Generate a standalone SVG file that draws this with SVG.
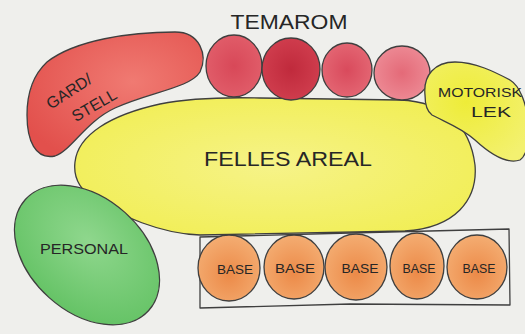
<svg xmlns="http://www.w3.org/2000/svg" width="525" height="334" viewBox="0 0 525 334">
<defs>
<radialGradient id="gRed" cx="0.6" cy="0.4" r="0.7"><stop offset="0" stop-color="#f07a72"/><stop offset="1" stop-color="#e2504c"/></radialGradient>
<radialGradient id="gYel" cx="0.5" cy="0.5" r="0.6"><stop offset="0" stop-color="#f6f388"/><stop offset="1" stop-color="#f1ee55"/></radialGradient>
<radialGradient id="gYel2" cx="0.4" cy="0.4" r="0.7"><stop offset="0" stop-color="#eeec38"/><stop offset="1" stop-color="#f3f170"/></radialGradient>
<radialGradient id="gGrn" cx="0.45" cy="0.4" r="0.7"><stop offset="0" stop-color="#8fd78d"/><stop offset="1" stop-color="#5fc060"/></radialGradient>
<radialGradient id="gOr" cx="0.5" cy="0.6" r="0.6"><stop offset="0" stop-color="#ec8a48"/><stop offset="1" stop-color="#f4ad72"/></radialGradient>
<radialGradient id="gT1" cx="0.5" cy="0.5" r="0.6"><stop offset="0" stop-color="#d84858"/><stop offset="1" stop-color="#e2606c"/></radialGradient>
<radialGradient id="gT2" cx="0.5" cy="0.5" r="0.6"><stop offset="0" stop-color="#c02a3c"/><stop offset="1" stop-color="#d24050"/></radialGradient>
<radialGradient id="gT3" cx="0.5" cy="0.5" r="0.6"><stop offset="0" stop-color="#d94a5c"/><stop offset="1" stop-color="#e56a76"/></radialGradient>
<radialGradient id="gT4" cx="0.5" cy="0.5" r="0.6"><stop offset="0" stop-color="#e46a78"/><stop offset="1" stop-color="#ee8e98"/></radialGradient>
</defs>
<style>
.ol{stroke:#3f3f3f;stroke-width:1.3;stroke-linejoin:round}
.t{font-family:"Liberation Sans",Arial,sans-serif;fill:#262626;text-anchor:middle}
.base{fill:url(#gOr)}
</style>
<rect x="0" y="0" width="525" height="334" fill="#efefec"/>

<g id="felles-areal">
<path class="ol" fill="url(#gYel)" d="M 75,162 C 78,135 110,115 160,104 C 190,98 220,97 260,98 L 400,100 C 445,102 470,125 475,165 C 478,200 455,228 405,231 L 200,235 C 160,234 120,215 95,200 C 80,190 73,178 75,162 Z"/>
<text class="t" x="288" y="166" font-size="20" textLength="168" lengthAdjust="spacingAndGlyphs">FELLES AREAL</text>
</g>

<g id="gard-stell">
<path class="ol" fill="url(#gRed)" d="M 47,62 C 75,40 130,32 175,32 C 200,32 208,55 200,72 C 190,88 150,92 115,108 C 85,122 72,150 55,156 C 35,160 27,140 27,115 C 27,95 33,75 47,62 Z"/>
<text class="t" font-size="16" transform="translate(72,96) rotate(-33)">GARD/</text>
<text class="t" font-size="16" transform="translate(97,110) rotate(-30)">STELL</text>
</g>

<g id="temarom">
<text class="t" x="289" y="29" font-size="20" textLength="117" lengthAdjust="spacingAndGlyphs">TEMAROM</text>
<ellipse class="ol" fill="url(#gT1)" cx="234" cy="66" rx="28" ry="31"/>
<ellipse class="ol" fill="url(#gT2)" cx="291" cy="69" rx="29" ry="31"/>
<ellipse class="ol" fill="url(#gT3)" cx="347" cy="70" rx="25" ry="27"/>
<ellipse class="ol" fill="url(#gT4)" cx="402" cy="73" rx="28" ry="27"/>
</g>

<g id="motorisk-lek">
<path class="ol" fill="url(#gYel2)" d="M 425,95 C 423,75 435,62 455,62 C 475,62 495,72 510,80 C 530,92 535,150 520,160 C 505,165 488,152 475,140 C 462,128 445,122 432,115 C 425,110 425,100 425,95 Z"/>
<text class="t" x="480" y="97" font-size="13" textLength="84" lengthAdjust="spacingAndGlyphs">MOTORISK</text>
<text class="t" x="491" y="117" font-size="14" textLength="40" lengthAdjust="spacingAndGlyphs">LEK</text>
</g>

<g id="personal">
<ellipse class="ol" fill="url(#gGrn)" cx="87" cy="255" rx="83" ry="57" transform="rotate(42 87 255)"/>
<text class="t" x="84" y="254" font-size="15" textLength="88" lengthAdjust="spacingAndGlyphs">PERSONAL</text>
</g>

<g id="baser">
<path class="ol" fill="none" d="M 200,237 L 350,233 L 509,229 L 510,305 L 350,304 L 200,308 Z"/>
<g id="base1"><ellipse class="ol base" cx="229" cy="268" rx="31" ry="33"/><text class="t" x="235" y="274" font-size="12" textLength="36" lengthAdjust="spacingAndGlyphs">BASE</text></g>
<g id="base2"><ellipse class="ol base" cx="294" cy="267" rx="30" ry="32"/><text class="t" x="295" y="273" font-size="12" textLength="40" lengthAdjust="spacingAndGlyphs">BASE</text></g>
<g id="base3"><ellipse class="ol base" cx="356" cy="267" rx="31" ry="33"/><text class="t" x="360" y="273" font-size="12" textLength="37" lengthAdjust="spacingAndGlyphs">BASE</text></g>
<g id="base4"><ellipse class="ol base" cx="417" cy="266" rx="27" ry="33"/><text class="t" x="419" y="273" font-size="12" textLength="33" lengthAdjust="spacingAndGlyphs">BASE</text></g>
<g id="base5"><ellipse class="ol base" cx="477" cy="267" rx="30" ry="32"/><text class="t" x="479" y="273" font-size="12" textLength="33" lengthAdjust="spacingAndGlyphs">BASE</text></g>
</g>
</svg>
